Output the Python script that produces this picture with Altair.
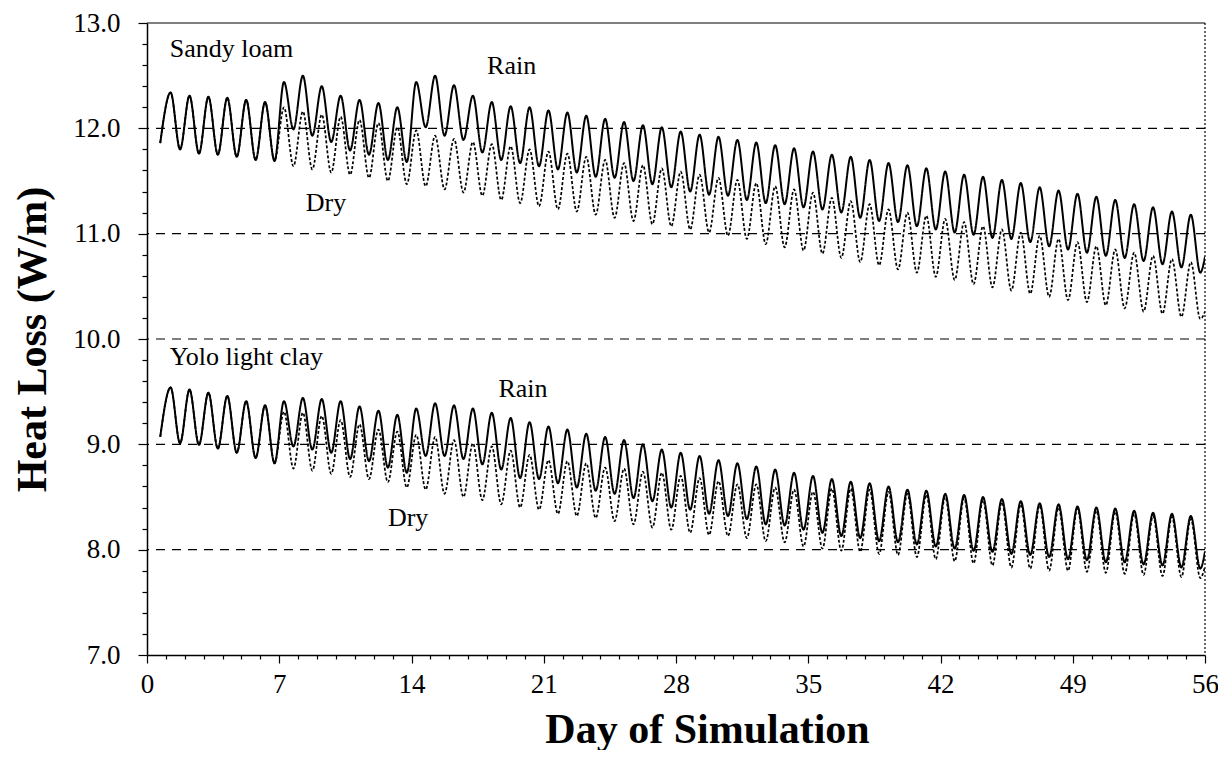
import altair as alt
import pandas as pd

# ---- data (daily maxima / minima, W/m) ----
days = list(range(1, 56))  # day index of each daily cycle

start_sandy = 11.86
start_yolo = 9.07

sandy_rain_peak = [12.34, 12.31, 12.30, 12.29, 12.27, 12.25,
                   12.44, 12.50, 12.40, 12.31, 12.27, 12.24, 12.20, 12.44, 12.50, 12.41, 12.31,
                   12.25, 12.21, 12.20, 12.17, 12.15, 12.12, 12.09, 12.06, 12.03, 12.01, 11.97, 11.94,
                   11.92, 11.89, 11.865, 11.84, 11.81, 11.78,
                   11.75, 11.73, 11.70, 11.67, 11.65, 11.62, 11.59, 11.56, 11.54, 11.51, 11.48, 11.44,
                   11.41, 11.38, 11.35, 11.32, 11.28, 11.25, 11.21, 11.18]
sandy_rain_trough = [11.80, 11.76, 11.75, 11.73, 11.70, 11.69,
                     11.99, 11.93, 11.87, 11.79, 11.75, 11.70, 11.68, 12.01, 11.93, 11.89, 11.77,
                     11.70, 11.67, 11.64, 11.61, 11.58, 11.54, 11.53, 11.50, 11.47, 11.44, 11.40, 11.37,
                     11.36, 11.32, 11.29, 11.28, 11.25, 11.23,
                     11.20, 11.15, 11.12, 11.11, 11.07, 11.04, 11.01, 10.99, 10.96, 10.95, 10.92, 10.88,
                     10.85, 10.82, 10.79, 10.77, 10.74, 10.71, 10.68, 10.63]
sandy_dry_peak = [12.34, 12.31, 12.30, 12.29, 12.27, 12.25,
                  12.20, 12.16, 12.13, 12.11, 12.08, 12.05, 12.01, 11.98, 11.93, 11.90, 11.87,
                  11.85, 11.83, 11.80, 11.78, 11.76, 11.73, 11.70, 11.67, 11.65, 11.62, 11.59, 11.56,
                  11.53, 11.51, 11.48, 11.45, 11.42, 11.39,
                  11.34, 11.31, 11.28, 11.23, 11.20, 11.17, 11.14, 11.11, 11.07, 11.04, 11.01, 10.98,
                  10.95, 10.92, 10.88, 10.85, 10.82, 10.79, 10.76, 10.73]
sandy_dry_trough = [11.80, 11.76, 11.75, 11.73, 11.70, 11.69,
                    11.64, 11.61, 11.58, 11.56, 11.53, 11.50, 11.47, 11.45, 11.42, 11.39, 11.36,
                    11.32, 11.29, 11.26, 11.23, 11.21, 11.18, 11.15, 11.12, 11.09, 11.07, 11.04, 11.01,
                    10.98, 10.95, 10.90, 10.87, 10.84, 10.81,
                    10.77, 10.73, 10.70, 10.66, 10.63, 10.59, 10.56, 10.52, 10.49, 10.46, 10.43, 10.40,
                    10.37, 10.35, 10.32, 10.29, 10.26, 10.24, 10.21, 10.19]

yolo_rain_peak = [9.54, 9.52, 9.49, 9.46, 9.41, 9.37,
                  9.41, 9.44, 9.43, 9.41, 9.36, 9.32, 9.28, 9.34, 9.39, 9.37, 9.34,
                  9.30, 9.25, 9.21, 9.17, 9.14, 9.10, 9.07, 9.04, 9.00, 8.95, 8.92, 8.89,
                  8.85, 8.82, 8.79, 8.76, 8.73, 8.70,
                  8.67, 8.645, 8.63, 8.60, 8.57, 8.56, 8.53, 8.52, 8.50, 8.48, 8.46, 8.44,
                  8.43, 8.41, 8.40, 8.39, 8.37, 8.35, 8.34, 8.32]
yolo_rain_trough = [9.01, 8.995, 8.96, 8.92, 8.87, 8.82,
                    8.98, 8.95, 8.92, 8.86, 8.84, 8.78, 8.73, 8.89, 8.89, 8.86, 8.81,
                    8.76, 8.68, 8.67, 8.63, 8.59, 8.56, 8.53, 8.49, 8.46, 8.40, 8.38, 8.34,
                    8.32, 8.29, 8.24, 8.23, 8.19, 8.16,
                    8.13, 8.11, 8.08, 8.07, 8.05, 8.03, 8.01, 7.99, 7.98, 7.96, 7.95, 7.93,
                    7.91, 7.90, 7.88, 7.88, 7.86, 7.85, 7.83, 7.82]
yolo_dry_peak = [9.54, 9.52, 9.49, 9.46, 9.41, 9.37,
                 9.31, 9.30, 9.27, 9.23, 9.19, 9.14, 9.12, 9.09, 9.07, 9.04, 9.01,
                 8.98, 8.94, 8.90, 8.85, 8.84, 8.82, 8.78, 8.77, 8.74, 8.73, 8.70, 8.68,
                 8.65, 8.62, 8.62, 8.59, 8.57, 8.55,
                 8.58, 8.58, 8.57, 8.55, 8.53, 8.52, 8.50, 8.49, 8.47, 8.45, 8.43, 8.42,
                 8.40, 8.39, 8.37, 8.36, 8.34, 8.32, 8.31, 8.29]
yolo_dry_trough = [9.01, 8.995, 8.96, 8.92, 8.87, 8.82,
                   8.77, 8.75, 8.72, 8.69, 8.67, 8.64, 8.59, 8.57, 8.53, 8.50, 8.47,
                   8.43, 8.40, 8.38, 8.34, 8.32, 8.30, 8.27, 8.24, 8.21, 8.19, 8.16, 8.14,
                   8.13, 8.11, 8.08, 8.07, 8.03, 8.01,
                   7.99, 7.98, 7.96, 7.95, 7.93, 7.91, 7.89, 7.87, 7.85, 7.83, 7.82, 7.80,
                   7.80, 7.79, 7.78, 7.77, 7.76, 7.75, 7.74, 7.73]

end_values = {"Sandy Rain": 10.78, "Sandy Dry": 10.26, "Yolo Rain": 7.98, "Yolo Dry": 7.84}

grid_values = [8, 9, 10, 11, 12]

labels_text = ["Sandy loam", "Rain", "Dry", "Yolo light clay", "Rain", "Dry"]
labels_day = [1.2, 18.0, 8.4, 1.2, 18.6, 12.75]
labels_val = [12.75, 12.59, 11.29, 9.83, 9.53, 8.30]

# ---- build long table ----
series = [
    ("Sandy Rain", "Rain", start_sandy, sandy_rain_peak, sandy_rain_trough),
    ("Sandy Dry", "Dry", start_sandy, sandy_dry_peak, sandy_dry_trough),
    ("Yolo Rain", "Rain", start_yolo, yolo_rain_peak, yolo_rain_trough),
    ("Yolo Dry", "Dry", start_yolo, yolo_dry_peak, yolo_dry_trough),
]
rows = []
for key, cond, st, pk, tr in series:
    i = 0
    rows.append({"key": key, "cond": cond, "day": 0.7, "value": st, "idx": i})
    for d, p, t in zip(days, pk, tr):
        i += 1
        rows.append({"key": key, "cond": cond, "day": d + 0.25, "value": p, "idx": i})
        i += 1
        rows.append({"key": key, "cond": cond, "day": d + 0.75, "value": t, "idx": i})
    i += 1
    rows.append({"key": key, "cond": cond, "day": 56.0, "value": end_values[key], "idx": i})
df = pd.DataFrame(rows)

FONT = "Liberation Serif"

x_scale = alt.Scale(domain=[0, 56], nice=False, zero=False)
y_scale = alt.Scale(domain=[7, 13], nice=False, zero=False)

x_axis = alt.Axis(
    values=list(range(0, 57)),
    labelExpr="datum.value % 7 === 0 ? datum.label : ''",
    labelOverlap=False,
    labelFlush=False,
    tickSize={"condition": {"test": "datum.value % 7 === 0", "value": 8}, "value": 4},
    title="Day of Simulation", grid=False, labelPadding=8, titlePadding=12,
    titleX=560, titleAlign="center",
)
y_axis = alt.Axis(
    values=[round(7 + 0.2 * k, 1) for k in range(31)],
    labelExpr="abs(datum.value - round(datum.value)) < 0.01 ? format(datum.value, '.1f') : ''",
    labelOverlap=False,
    labelFlush=False,
    tickSize={"condition": {"test": "abs(datum.value - round(datum.value)) < 0.01", "value": 9}, "value": 5},
    title="Heat Loss (W/m)", grid=False, labelPadding=18, titlePadding=18,
)

lines = alt.Chart(df).mark_line(interpolate="monotone", color="black", clip=True).encode(
    x=alt.X("day:Q", scale=x_scale, axis=x_axis),
    y=alt.Y("value:Q", scale=y_scale, axis=y_axis),
    detail="key:N",
    order="idx:Q",
    strokeDash=alt.StrokeDash("cond:N", scale=alt.Scale(domain=["Rain", "Dry"], range=[[1, 0], [3, 2]]), legend=None),
    strokeWidth=alt.StrokeWidth("cond:N", scale=alt.Scale(domain=["Rain", "Dry"], range=[2.0, 1.7]), legend=None),
)

grid = alt.Chart(pd.DataFrame({"g": grid_values})).mark_rule(
    color="black", strokeDash=[9, 7], strokeWidth=1.2
).encode(y=alt.Y("g:Q", scale=y_scale, axis=y_axis))

top_border = alt.Chart(pd.DataFrame({"g": [13]})).mark_rule(color="black", strokeWidth=1.2).encode(
    y=alt.Y("g:Q", scale=y_scale, axis=y_axis))
right_border = alt.Chart(pd.DataFrame({"d": [56]})).mark_rule(color="black", strokeDash=[2, 2], strokeWidth=1.2).encode(
    x=alt.X("d:Q", scale=x_scale, axis=x_axis))

ann = alt.Chart(pd.DataFrame({"t": labels_text, "d": labels_day, "v": labels_val})).mark_text(
    align="left", baseline="middle", font=FONT, fontSize=26, color="black"
).encode(x=alt.X("d:Q", scale=x_scale, axis=x_axis), y=alt.Y("v:Q", scale=y_scale, axis=y_axis), text="t:N")

chart = alt.layer(grid, top_border, right_border, lines, ann).properties(
    width=1058, height=632,
    autosize=alt.AutoSizeParams(type="none"),
    padding={"left": 139, "top": 15, "right": 13, "bottom": 95},
    background="white",
).configure_view(stroke=None).configure_axis(
    domainColor="black", domainWidth=1.5, tickColor="black", tickWidth=1.2,
    labelFont=FONT, labelFontSize=27, labelColor="black",
    titleFont=FONT, titleFontSize=42, titleFontWeight="bold", titleColor="black",
)

chart.save("out.html", embed_options={"renderer": "svg", "actions": False})
